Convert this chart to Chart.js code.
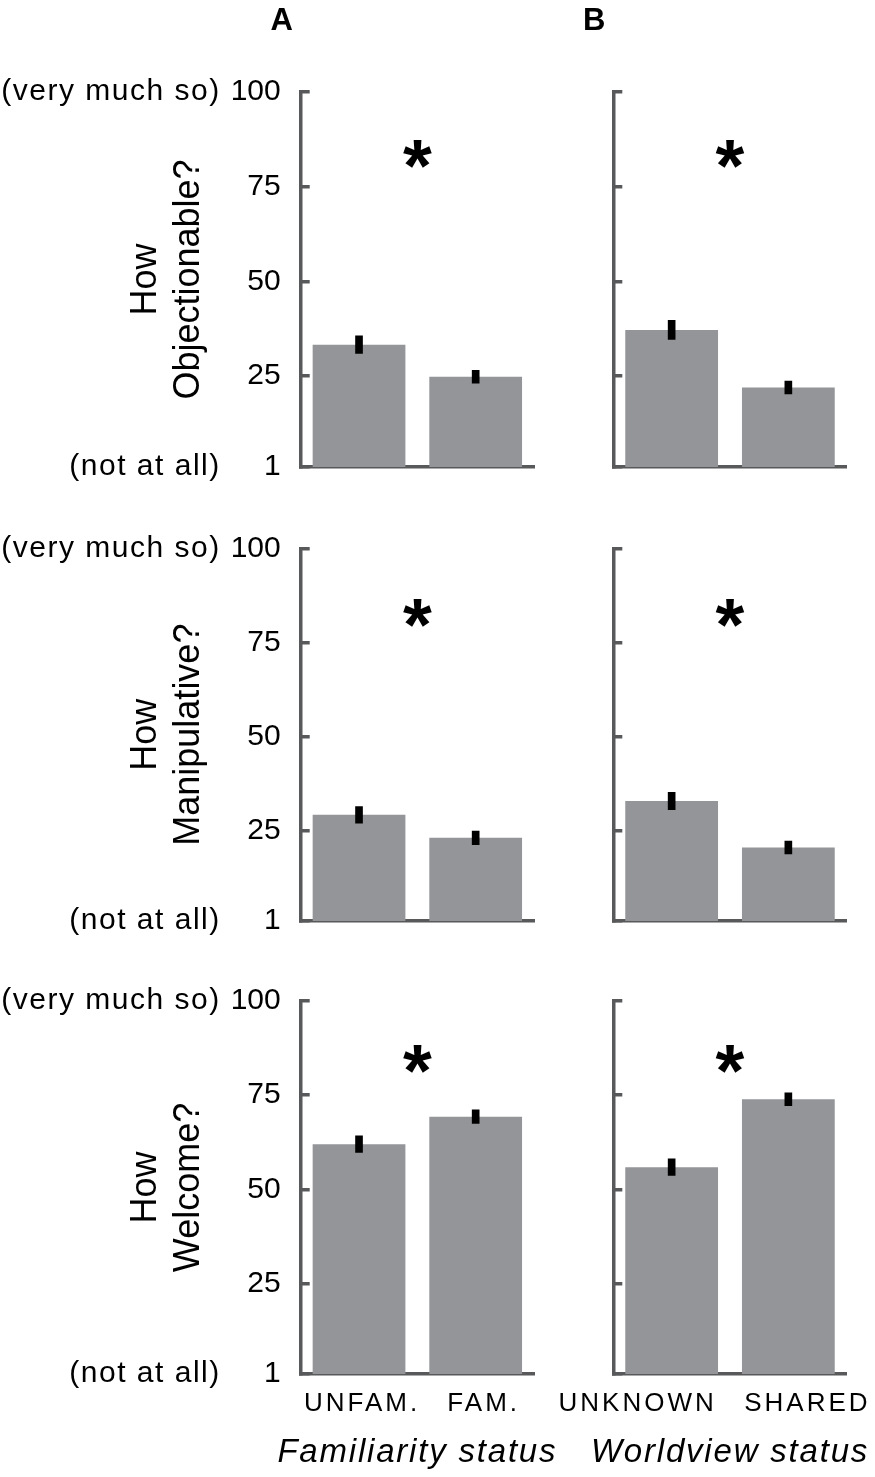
<!DOCTYPE html>
<html>
<head>
<meta charset="utf-8">
<script src="https://cdn.jsdelivr.net/npm/chart.js@4.4.1/dist/chart.umd.min.js"></script>
<style>
body { margin: 0; background: #fff; }
#fig { position: relative; width: 875px; height: 1477px; }
canvas { position: absolute; }
</style>
</head>
<body>
<div id="fig"></div>
<script>
// values (rating scale 1..100)
const panelLetters = ['A', 'B'];
const rowQuestions = [['How', 'Objectionable?'], ['How', 'Manipulative?'], ['How', 'Welcome?']];
const colTitles = ['Familiarity status', 'Worldview status'];
const famLabels = ['UNFAM.', 'FAM.'];
const worldLabels = ['UNKNOWN', 'SHARED'];
const scaleAnchors = ['(not at all)', '(very much so)'];
const yTicks = [1, 25, 50, 75, 100];

const famMeans = [[33.3, 24.8], [29.2, 23.1], [62.0, 69.3]];
const famErrors = [[2.3, 1.7], [2.2, 1.8], [2.2, 1.8]];
const worldMeans = [[37.2, 22.0], [32.9, 20.5], [55.9, 73.9]];
const worldErrors = [[2.5, 1.7], [2.3, 1.7], [2.2, 1.7]];
const starLevels = [84.5, 83.5, 85.5];

const FONT = "'Liberation Sans', Arial, Helvetica, sans-serif";
const AXIS = '#58595b';
const BAR = '#939598';

// where each panel sits in the 875x1477 figure (canvases may overlap, they are transparent)
const colBox = [
    { x: 0, w: 562, axisW: 300.7, padR: 28, xShift: [3, 8] },
    { x: 545, w: 330, axisW: 68.3, padR: 28.3, xShift: [-34, 19] }
];
const rowBox = [
    { y: 0, h: 500, padT: 92, axisH: 33 },
    { y: 500, h: 455, padT: 48.3, axisH: 34 },
    { y: 955, h: 522, padT: 46, axisH: 103 }
];

const notesPlugin = {
    id: 'notes',
    afterDraw(chart, args, opts) {
        const ctx = chart.ctx;
        const a = chart.chartArea;
        const y = chart.scales.y;
        const x = chart.scales.x;
        ctx.save();
        ctx.fillStyle = '#000';
        if (opts.letter) {
            ctx.font = 'bold 31px ' + FONT;
            ctx.textAlign = 'center';
            ctx.textBaseline = 'middle';
            ctx.fillText(opts.letter, a.left - 19, a.top - 71);
        }
        if (opts.star != null) {
            ctx.font = 'bold 74px ' + FONT;
            ctx.textAlign = 'center';
            ctx.textBaseline = 'alphabetic';
            ctx.fillText('*', (a.left + a.right) / 2, y.getPixelForValue(opts.star) + 0.54 * 74);
        }
        if (opts.ends) {
            ctx.font = '30px ' + FONT;
            ctx.letterSpacing = '1.5px';
            ctx.textAlign = 'right';
            ctx.textBaseline = 'middle';
            ctx.fillText(scaleAnchors[1], a.left - 80, y.getPixelForValue(y.max));
            ctx.fillText(scaleAnchors[0], a.left - 80, y.getPixelForValue(y.min));
        }
        if (opts.xLabels) {
            ctx.font = '26px ' + FONT;
            ctx.letterSpacing = '3px';
            ctx.textAlign = 'center';
            ctx.textBaseline = 'alphabetic';
            opts.xLabels.forEach(function (lab, i) {
                ctx.fillText(lab, x.getPixelForValue(i) + opts.xShift[i], a.bottom + 36.7);
            });
        }
        if (opts.xTitle) {
            ctx.font = 'italic 33px ' + FONT;
            ctx.letterSpacing = '1.8px';
            ctx.textAlign = 'center';
            ctx.textBaseline = 'alphabetic';
            ctx.fillText(opts.xTitle, (a.left + a.right) / 2, a.bottom + 87.7);
        }
        ctx.restore();
    }
};

const fig = document.getElementById('fig');

for (let r = 0; r < rowBox.length; r++) {
    for (let c = 0; c < colBox.length; c++) {
        const rb = rowBox[r];
        const cb = colBox[c];
        const labels = c === 0 ? famLabels : worldLabels;
        const means = c === 0 ? famMeans[r] : worldMeans[r];
        const errs = c === 0 ? famErrors[r] : worldErrors[r];
        const left = c === 0;
        const bottom = r === rowBox.length - 1;

        const cv = document.createElement('canvas');
        cv.width = cb.w;
        cv.height = rb.h;
        cv.style.left = cb.x + 'px';
        cv.style.top = rb.y + 'px';
        fig.appendChild(cv);

        new Chart(cv, {
            type: 'bar',
            data: {
                labels: labels,
                datasets: [{
                    // error bars as thin floating bars
                    data: means.map((m, i) => [m - errs[i], m + errs[i]]),
                    backgroundColor: '#000',
                    barThickness: 7,
                    grouped: false,
                    order: 0
                }, {
                    data: means,
                    backgroundColor: BAR,
                    categoryPercentage: 1,
                    barPercentage: 0.795,
                    grouped: false,
                    order: 1
                }]
            },
            options: {
                responsive: false,
                animation: false,
                events: [],
                layout: {
                    padding: { left: 0, right: cb.padR, top: rb.padT, bottom: 0 }
                },
                scales: {
                    x: {
                        z: 1,
                        grid: { display: false },
                        border: { display: true, color: AXIS, width: 3.5 },
                        ticks: { display: false },
                        afterFit: function (s) { s.height = rb.axisH; }
                    },
                    y: {
                        z: 1,
                        min: 1,
                        max: 100,
                        beginAtZero: false,
                        afterBuildTicks: function (s) { s.ticks = yTicks.map(v => ({ value: v })); },
                        grid: {
                            drawOnChartArea: false,
                            drawTicks: true,
                            tickLength: -9,
                            color: AXIS,
                            lineWidth: 3.5
                        },
                        border: { display: true, color: AXIS, width: 3.5 },
                        ticks: {
                            display: left,
                            color: '#000',
                            padding: 29,
                            font: { family: FONT, size: 30 }
                        },
                        title: {
                            display: left,
                            text: rowQuestions[r],
                            color: '#000',
                            font: { family: FONT, size: 36, lineHeight: 1.2 },
                            padding: { top: 124, bottom: 0 }
                        },
                        afterFit: function (s) {
                            s.width = cb.axisW;
                            s.paddingTop = 0;
                            s.paddingBottom = 0;
                        }
                    }
                },
                plugins: {
                    legend: { display: false },
                    tooltip: { enabled: false },
                    notes: {
                        letter: r === 0 ? panelLetters[c] : null,
                        star: starLevels[r],
                        ends: left,
                        xLabels: bottom ? labels : null,
                        xShift: cb.xShift,
                        xTitle: bottom ? colTitles[c] : null
                    }
                }
            },
            plugins: [notesPlugin]
        });
    }
}
</script>
</body>
</html>
